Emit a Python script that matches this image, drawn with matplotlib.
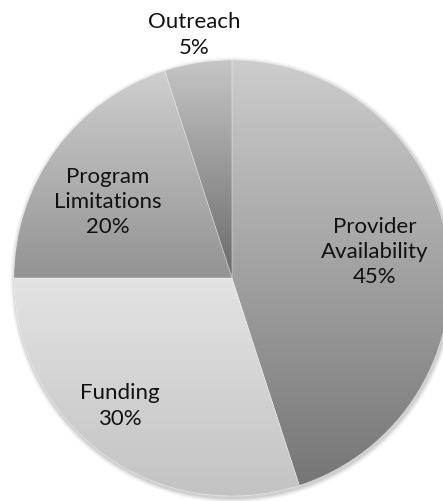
import numpy as np
import matplotlib
matplotlib.use("Agg")
import matplotlib.pyplot as plt
from matplotlib.colors import LinearSegmentedColormap
from matplotlib.patches import Circle

categories = ["Provider\nAvailability", "Funding", "Program\nLimitations", "Outreach"]
values = [45, 30, 20, 5]
pct_labels = ["45%", "30%", "20%", "5%"]

# gradient colours (top, bottom) per slice
grads = [("#cdcdcd", "#767676"), ("#e3e3e3", "#c3c3c3"),
         ("#cfcfcf", "#939393"), ("#c6c6c6", "#6a6a6a")]
label_pos = [(375, 252), (120, 406), (108, 202), (194, 35)]

W, H = 443, 502
fig = plt.figure(figsize=(W / 100, H / 100), dpi=100)
ax = fig.add_axes([0, 0, 1, 1])
ax.set_xlim(0, W)
ax.set_ylim(0, H)
ax.axis("off")

cx, cy, r = 232, H - 279, 218

# soft shadow
for i, a in enumerate([0.05, 0.05, 0.04, 0.03, 0.02]):
    ax.add_patch(Circle((cx + 1, cy - 2), r + 1 + i, facecolor="black", alpha=a,
                        edgecolor="none", zorder=0))
ax.add_patch(Circle((cx, cy), r, facecolor="white", edgecolor="none", zorder=0.5))

wedges, _ = ax.pie(values, radius=r, center=(cx, cy), startangle=90,
                   counterclock=False, frame=True,
                   wedgeprops=dict(edgecolor="none", linewidth=0))
ax.set_xlim(0, W)
ax.set_ylim(0, H)
ax.axis("off")

for w, (top, bot) in zip(wedges, grads):
    w.set_facecolor("none")
    ext = w.get_path().get_extents()
    cmap = LinearSegmentedColormap.from_list("g", [bot, top])
    grad = np.linspace(0, 1, 256).reshape(-1, 1)
    im = ax.imshow(grad, cmap=cmap, origin="lower", aspect="auto",
                   extent=(ext.x0, ext.x1, ext.y0, ext.y1), zorder=1,
                   interpolation="bilinear")
    im.set_clip_path(w)

# thin light separators
for w in wedges:
    w.set_edgecolor((1, 1, 1, 0.3))
    w.set_linewidth(0.5)
    w.set_zorder(2)

for cat, pct, (x, y) in zip(categories, pct_labels, label_pos):
    ax.text(x, H - y, f"{cat}\n{pct}", ha="center", va="center",
            fontsize=16, family=["Lato", "DejaVu Sans"], color="#111111",
            linespacing=1.33, zorder=3)

ax.set_xlim(0, W)
ax.set_ylim(0, H)
fig.savefig("out.png", dpi=100)
